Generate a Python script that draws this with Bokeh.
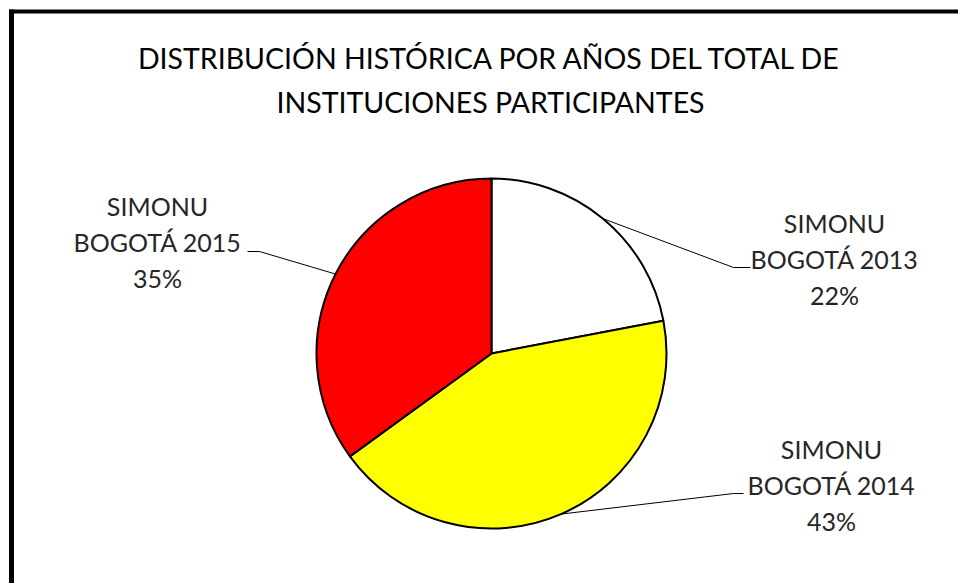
import math
from bokeh.plotting import figure
from bokeh.models import Range1d, ColumnDataSource
from bokeh.core.properties import value
from bokeh.embed import file_html
from bokeh.resources import INLINE

# ---- data ----
title_lines = ["DISTRIBUCIÓN HISTÓRICA POR AÑOS DEL TOTAL DE", "INSTITUCIONES PARTICIPANTES"]
series_names = ["SIMONU BOGOTÁ 2013", "SIMONU BOGOTÁ 2014", "SIMONU BOGOTÁ 2015"]
percents = [22, 43, 35]
colors = ["#FFFFFF", "#FFFF00", "#FF0000"]

# ---- layout (page pixel coords) ----
W, H = 958, 583
FONT = "Lato"


def Y(py):
    return H - py


p = figure(width=W, height=H, output_backend="svg", toolbar_location=None,
           x_range=Range1d(0, W), y_range=Range1d(0, H), min_border=0)
p.axis.visible = False
p.grid.visible = False
p.outline_line_color = None
p.background_fill_color = "white"
p.border_fill_color = "white"

# frame borders (left and top visible in reference)
p.segment(x0=[11], y0=[Y(9)], x1=[11], y1=[-5], line_color="black", line_width=5)
p.segment(x0=[8.5], y0=[Y(11)], x1=[W + 5], y1=[Y(11)], line_color="black", line_width=4)

# title
p.text(x=[490, 490], y=[Y(57), Y(101)], text=title_lines, text_font=value(FONT),
       text_font_size="28.5px", text_color="black", text_align="center", text_baseline="middle")

# pie
cx, cy, r = 491, Y(353), 175
total = sum(percents)
starts, ends, mids = [], [], []
acc = 0.0
for v in percents:
    a0 = math.pi / 2 - 2 * math.pi * acc / total
    acc += v
    a1 = math.pi / 2 - 2 * math.pi * acc / total
    starts.append(a0)
    ends.append(a1)
    mids.append((a0 + a1) / 2)

src = ColumnDataSource(dict(start=starts, end=ends, color=colors))
p.wedge(x=cx, y=cy, radius=r, start_angle="start", end_angle="end", direction="clock",
        fill_color="color", line_color="black", line_width=2, source=src)

# labels: (text center x, text center y of middle line, elbow x, elbow y, tail x)
label_layout = [
    (834, 258, 733, 267, 750),
    (831, 484, 733, 493, 743),
    (157, 241, 259, 251, 247),
]
for name, pct, mid, (tx, ty, ex, ey, hx) in zip(series_names, percents, mids, label_layout):
    px = cx + r * math.cos(mid)
    py = cy + r * math.sin(mid)
    p.line(x=[px, ex, hx], y=[py, Y(ey), Y(ey)], line_color="black", line_width=1)
    parts = name.split(" ", 1)
    txt = parts[0] + "\n" + parts[1] + "\n" + f"{pct}%"
    p.text(x=[tx], y=[Y(ty)], text=[txt], text_font=value(FONT), text_font_size="25px",
           text_color="#262626", text_align="center", text_baseline="middle",
           text_line_height=1.2)

open("out.html", "w").write(file_html(p, INLINE))
